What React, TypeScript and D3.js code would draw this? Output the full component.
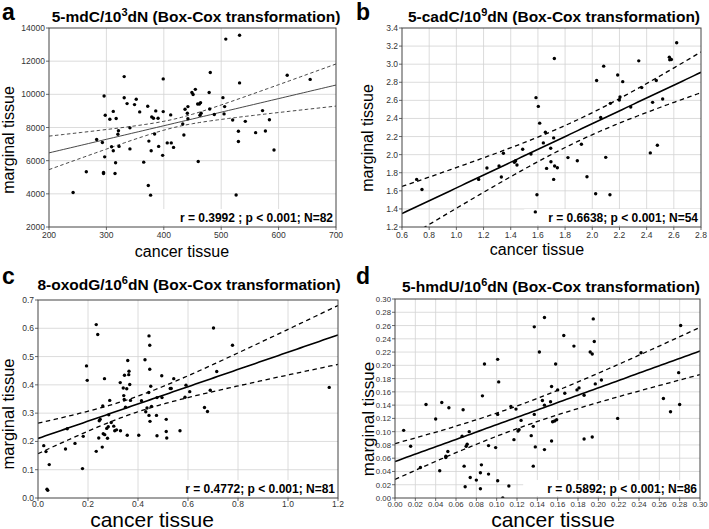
import React from 'react';
import * as d3 from 'd3';

const W = 709;
const H = 529;

// ---------- Panel a: 5-mdC/10^3 dN ----------
const aPoints: [number, number][] = [
  [242,4080],[265,5330],[283,7280],[293,7100],[295,5290],[295,5230],[296,9900],[297,6230],[298,8740],[306,8500],
  [309,6840],[312,8970],[312,6600],[315,5230],[316,5870],[317,8540],[320,7590],[321,7800],[322,6860],[331,11070],
  [331,9790],[336,9440],[341,6710],[341,7980],[349,9380],[352,9700],[358,8940],[365,5910],[372,9280],[373,4500],
  [374,7180],[377,3920],[378,6600],[379,8640],[382,8560],[384,7610],[386,9000],[390,8560],[391,6860],[399,8960],
  [399,10930],[398,6320],[406,7070],[412,8760],[413,7070],[417,6800],[433,8210],[435,7550],[437,9100],[442,9260],
  [442,8530],[441,8860],[449,10110],[451,9990],[455,10300],[459,9420],[460,5950],[462,9420],[463,8740],[464,9500],
  [465,8860],[479,10110],[480,9120],[481,11320],[488,8780],[503,9800],[505,8820],[506,9260],[508,13330],[520,8450],
  [526,3930],[530,7770],[530,7160],[532,13560],[532,10690],[542,8370],[560,7690],[572,9020],[577,7790],[584,8470],
  [592,6640],[615,11150],[655,10900]
];
const aFit = [6470, 10560];
const aBand = [1010, 1270];
const aMeanX = 420;

// ---------- Panel b: 5-cadC/10^9 dN ----------
const bPoints: [number, number][] = [
  [0.708,1.726],[0.747,1.615],[1.164,1.726],[1.225,1.852],[1.314,1.874],[1.331,1.752],[1.346,2.015],[1.427,1.915],
  [1.436,1.933],[1.446,1.885],[1.488,2.059],[1.549,2.007],[1.581,1.367],[1.586,2.63],[1.593,1.556],[1.603,2.533],
  [1.613,2.348],[1.64,2.13],[1.655,2.248],[1.664,1.848],[1.694,2.07],[1.696,1.922],[1.721,3.063],[1.716,2.185],
  [1.716,1.726],[1.723,1.874],[1.743,1.855],[1.821,1.967],[1.89,1.933],[1.92,2.115],[1.961,1.756],[2.025,1.567],
  [2.032,2.819],[2.062,2.411],[2.084,2.978],[2.099,1.97],[2.13,1.556],[2.133,2.567],[2.187,2.881],[2.199,2.604],
  [2.204,2.637],[2.224,2.807],[2.283,2.526],[2.342,3.037],[2.364,2.741],[2.427,2.019],[2.444,2.578],[2.471,2.819],
  [2.479,2.104],[2.518,2.615],[2.567,3.078],[2.57,3.048],[2.582,3.052],[2.621,3.237]
];
const bFit = [1.348, 2.91];
const bBand = [0.3, 0.225];
const bMeanX = 1.9;

// ---------- Panel c: 8-oxodG/10^6 dN ----------
const cPoints: [number, number][] = [
  [0.023,0.185],[0.032,0.164],[0.036,0.031],[0.039,0.027],[0.045,0.118],[0.110,0.173],[0.117,0.245],[0.148,0.193],
  [0.178,0.104],[0.181,0.218],[0.194,0.467],[0.197,0.416],[0.233,0.613],[0.233,0.165],[0.239,0.578],[0.243,0.212],
  [0.245,0.273],[0.249,0.278],[0.257,0.180],[0.259,0.325],[0.261,0.227],[0.266,0.422],[0.267,0.224],[0.275,0.246],
  [0.278,0.211],[0.281,0.252],[0.283,0.294],[0.287,0.345],[0.293,0.267],[0.303,0.254],[0.307,0.238],[0.314,0.241],
  [0.329,0.408],[0.330,0.238],[0.341,0.389],[0.343,0.362],[0.345,0.348],[0.346,0.434],[0.350,0.321],[0.355,0.386],
  [0.357,0.222],[0.359,0.486],[0.363,0.436],[0.364,0.448],[0.367,0.401],[0.370,0.345],[0.403,0.222],[0.414,0.344],
  [0.428,0.489],[0.431,0.305],[0.436,0.318],[0.443,0.373],[0.444,0.292],[0.444,0.573],[0.447,0.540],[0.447,0.455],
  [0.448,0.271],[0.451,0.395],[0.454,0.324],[0.474,0.292],[0.476,0.220],[0.476,0.355],[0.495,0.432],[0.496,0.355],
  [0.513,0.278],[0.513,0.235],[0.515,0.212],[0.529,0.387],[0.533,0.387],[0.543,0.422],[0.568,0.238],[0.588,0.356],
  [0.592,0.399],[0.607,0.376],[0.666,0.320],[0.678,0.306],[0.689,0.381],[0.702,0.601],[0.715,0.447],[0.778,0.540],
  [1.165,0.391]
];
const cFit = [0.2106, 0.5765];
const cBand = [0.054, 0.104];
const cMeanX = 0.38;

// ---------- Panel d: 5-hmdU/10^6 dN ----------
const dPoints: [number, number][] = [
  [0.147,0.272],[0.137,0.258],[0.195,0.270],[0.281,0.260],[0.166,0.245],[0.176,0.229],[0.196,0.236],[0.142,0.220],
  [0.192,0.220],[0.194,0.217],[0.242,0.219],[0.101,0.209],[0.088,0.202],[0.158,0.202],[0.102,0.175],[0.086,0.154],
  [0.203,0.178],[0.197,0.172],[0.279,0.189],[0.154,0.168],[0.160,0.163],[0.179,0.163],[0.181,0.166],[0.167,0.158],
  [0.186,0.155],[0.264,0.150],[0.153,0.145],[0.145,0.147],[0.147,0.140],[0.114,0.138],[0.119,0.134],[0.0305,0.141],
  [0.046,0.144],[0.053,0.136],[0.067,0.133],[0.271,0.130],[0.280,0.141],[0.137,0.126],[0.101,0.126],[0.040,0.119],
  [0.124,0.117],[0.155,0.115],[0.157,0.116],[0.159,0.118],[0.219,0.120],[0.0085,0.102],[0.073,0.100],[0.066,0.093],
  [0.121,0.101],[0.122,0.103],[0.136,0.108],[0.134,0.094],[0.117,0.088],[0.0154,0.078],[0.071,0.081],[0.070,0.078],
  [0.092,0.079],[0.099,0.076],[0.138,0.077],[0.154,0.086],[0.186,0.089],[0.194,0.092],[0.147,0.073],[0.052,0.070],
  [0.050,0.063],[0.050,0.061],[0.025,0.046],[0.068,0.048],[0.085,0.050],[0.136,0.048],[0.044,0.041],[0.074,0.031],
  [0.084,0.038],[0.092,0.036],[0.080,0.027],[0.069,0.017],[0.084,0.014],[0.101,0.026],[0.112,0.018],[0.106,0.000]
];
const dFit = [0.055, 0.2216];
const dBand = [0.027, 0.0357];
const dMeanX = 0.12;

const titles = [
  { pre: '5-mdC/10', sup: '3', post: 'dN (Box-Cox transformation)' },
  { pre: '5-cadC/10', sup: '9', post: 'dN (Box-Cox transformation)' },
  { pre: '8-oxodG/10', sup: '6', post: 'dN (Box-Cox transformation)' },
  { pre: '5-hmdU/10', sup: '6', post: 'dN (Box-Cox transformation)' },
];
const statLabels = [
  'r = 0.3992 ; p < 0.001; N=82',
  'r = 0.6638; p < 0.001; N=54',
  'r = 0.4772; p < 0.001; N=81',
  'r = 0.5892; p < 0.001; N=86',
];
const letters = ['a', 'b', 'c', 'd'];

type Cfg = {
  id: string;
  letter: string;
  title: { pre: string; sup: string; post: string };
  stat: string;
  points: [number, number][];
  fit: number[];
  band: number[];
  meanX: number;
  xDomain: [number, number];
  yDomain: [number, number];
  xStep: number;
  yStep: number;
  xFmt: string;
  yFmt: string;
  box: { l: number; r: number; t: number; b: number };
  letterPos: [number, number];
  titlePos: [number, number];
  yLabPos: [number, number];
  xLabPos: [number, number];
  xLabSize: number;
  yLabSize: number;
  tickSize: number;
  tickDy: number;
  thin: boolean;
};

function ticks(d: [number, number], step: number) {
  const n = Math.round((d[1] - d[0]) / step);
  return d3.range(n + 1).map((i) => +(d[0] + i * step).toFixed(6));
}

const FONT = 'Liberation Sans, Arial, Helvetica, sans-serif';

function Panel({ c }: { c: Cfg }) {
  const x = d3.scaleLinear().domain(c.xDomain).range([c.box.l, c.box.r]);
  const y = d3.scaleLinear().domain(c.yDomain).range([c.box.b, c.box.t]);
  const xt = ticks(c.xDomain, c.xStep);
  const yt = ticks(c.yDomain, c.yStep);
  const fx = d3.format(c.xFmt);
  const fy = d3.format(c.yFmt);

  const [x0, x1] = c.xDomain;
  const slope = (c.fit[1] - c.fit[0]) / (x1 - x0);
  const fitY = (v: number) => c.fit[0] + slope * (v - x0);
  const dl = (x0 - c.meanX) ** 2;
  const dr = (x1 - c.meanX) ** 2;
  const k2 = (c.band[1] ** 2 - c.band[0] ** 2) / (dr - dl);
  const h02 = Math.max(c.band[0] ** 2 - k2 * dl, 1e-12);
  const half = (v: number) => Math.sqrt(h02 + k2 * (v - c.meanX) ** 2);
  const xs = d3.range(81).map((i) => x0 + ((x1 - x0) * i) / 80);
  const solid = d3.line<number>().x((v) => x(v)).y((v) => y(fitY(v)))(xs) as string;
  const upper = d3.line<number>().x((v) => x(v)).y((v) => y(fitY(v) + half(v)))(xs) as string;
  const lower = d3.line<number>().x((v) => x(v)).y((v) => y(fitY(v) - half(v)))(xs) as string;

  const lw = c.thin ? 0.9 : 1.6;
  const dw = c.thin ? 0.9 : 1.3;
  const lc = c.thin ? '#333' : '#000';
  const dash = c.thin ? '3.5,2.5' : '4.5,3.5';
  const clipId = 'clip-' + c.id;

  const statW = c.stat.length * 6.4;

  return (
    <g>
      <defs>
        <clipPath id={clipId}>
          <rect x={c.box.l} y={c.box.t} width={c.box.r - c.box.l} height={c.box.b - c.box.t} />
        </clipPath>
      </defs>
      <rect x={c.box.l} y={c.box.t} width={c.box.r - c.box.l} height={c.box.b - c.box.t} fill="#fff" />
      {xt.slice(1, -1).map((v) => (
        <line key={'gx' + v} x1={x(v)} x2={x(v)} y1={c.box.t} y2={c.box.b} stroke="#d3d3d3" strokeWidth={0.8} />
      ))}
      {yt.slice(1, -1).map((v) => (
        <line key={'gy' + v} x1={c.box.l} x2={c.box.r} y1={y(v)} y2={y(v)} stroke="#d3d3d3" strokeWidth={0.8} />
      ))}
      <g clipPath={`url(#${clipId})`}>
        <rect x={c.box.r - statW - 4} y={c.box.b - 18} width={statW + 3} height={16} fill="#fff" />
        <path d={upper} fill="none" stroke={lc} strokeWidth={dw} strokeDasharray={dash} />
        <path d={lower} fill="none" stroke={lc} strokeWidth={dw} strokeDasharray={dash} />
        <path d={solid} fill="none" stroke={lc} strokeWidth={lw} />
        {c.points.map((p, i) => (
          <circle key={i} cx={x(p[0])} cy={y(p[1])} r={1.7} fill="#000" />
        ))}
      </g>
      <rect
        x={c.box.l}
        y={c.box.t}
        width={c.box.r - c.box.l}
        height={c.box.b - c.box.t}
        fill="none"
        stroke="#444"
        strokeWidth={1}
      />
      {xt.map((v) => (
        <g key={'tx' + v}>
          <line x1={x(v)} x2={x(v)} y1={c.box.b} y2={c.box.b + 3} stroke="#444" strokeWidth={0.8} />
          <text x={x(v)} y={c.box.b + c.tickDy} fontSize={c.tickSize} fill="#333" textAnchor="middle" fontFamily={FONT}>
            {fx(v)}
          </text>
        </g>
      ))}
      {yt.map((v) => (
        <g key={'ty' + v}>
          <line x1={c.box.l - 3} x2={c.box.l} y1={y(v)} y2={y(v)} stroke="#444" strokeWidth={0.8} />
          <text x={c.box.l - 4} y={y(v) + 3} fontSize={c.tickSize} fill="#333" textAnchor="end" fontFamily={FONT}>
            {fy(v)}
          </text>
        </g>
      ))}
      <text
        x={c.box.r - 3}
        y={c.box.b - 5}
        fontSize={12}
        fontWeight="bold"
        textAnchor="end"
        fontFamily={FONT}
        fill="#000"
      >
        {c.stat}
      </text>
      <text x={c.letterPos[0]} y={c.letterPos[1]} fontSize={23} fontWeight="bold" fontFamily={FONT}>
        {c.letter}
      </text>
      <text
        x={c.titlePos[0]}
        y={c.titlePos[1]}
        fontSize={15.5}
        fontWeight="bold"
        textAnchor="middle"
        fontFamily={FONT}
      >
        {c.title.pre}
        <tspan dy={-6} fontSize={11}>
          {c.title.sup}
        </tspan>
        <tspan dy={6}>{c.title.post}</tspan>
      </text>
      <text
        transform={`translate(${c.yLabPos[0]},${c.yLabPos[1]}) rotate(-90)`}
        fontSize={c.yLabSize}
        textAnchor="middle"
        fontFamily={FONT}
      >
        marginal tissue
      </text>
      <text x={c.xLabPos[0]} y={c.xLabPos[1]} fontSize={c.xLabSize} textAnchor="middle" fontFamily={FONT}>
        cancer tissue
      </text>
    </g>
  );
}

const panels: Cfg[] = [
  {
    id: 'a',
    letter: letters[0],
    title: titles[0],
    stat: statLabels[0],
    points: aPoints,
    fit: aFit,
    band: aBand,
    meanX: aMeanX,
    xDomain: [200, 700],
    yDomain: [2000, 14000],
    xStep: 100,
    yStep: 2000,
    xFmt: 'd',
    yFmt: 'd',
    box: { l: 49, r: 336, t: 28, b: 227 },
    letterPos: [2, 20],
    titlePos: [196, 22],
    yLabPos: [14, 140],
    xLabPos: [182, 257],
    xLabSize: 16,
    yLabSize: 16,
    tickSize: 8.5,
    tickDy: 11,
    thin: true,
  },
  {
    id: 'b',
    letter: letters[1],
    title: titles[1],
    stat: statLabels[1],
    points: bPoints,
    fit: bFit,
    band: bBand,
    meanX: bMeanX,
    xDomain: [0.6, 2.8],
    yDomain: [1.2, 3.4],
    xStep: 0.2,
    yStep: 0.2,
    xFmt: '.1f',
    yFmt: '.1f',
    box: { l: 402, r: 701, t: 28, b: 227 },
    letterPos: [356, 20],
    titlePos: [554, 22],
    yLabPos: [373, 138],
    xLabPos: [537, 255],
    xLabSize: 16,
    yLabSize: 16,
    tickSize: 8.5,
    tickDy: 11,
    thin: false,
  },
  {
    id: 'c',
    letter: letters[2],
    title: titles[2],
    stat: statLabels[2],
    points: cPoints,
    fit: cFit,
    band: cBand,
    meanX: cMeanX,
    xDomain: [0, 1.2],
    yDomain: [0, 0.7],
    xStep: 0.2,
    yStep: 0.1,
    xFmt: '.1f',
    yFmt: '.1f',
    box: { l: 38, r: 338, t: 300, b: 498 },
    letterPos: [2, 284],
    titlePos: [189, 290],
    yLabPos: [14, 414],
    xLabPos: [152, 526.5],
    xLabSize: 21,
    yLabSize: 16.5,
    tickSize: 8.5,
    tickDy: 9,
    thin: false,
  },
  {
    id: 'd',
    letter: letters[3],
    title: titles[3],
    stat: statLabels[3],
    points: dPoints,
    fit: dFit,
    band: dBand,
    meanX: dMeanX,
    xDomain: [0, 0.3],
    yDomain: [0, 0.3],
    xStep: 0.02,
    yStep: 0.02,
    xFmt: '.2f',
    yFmt: '.2f',
    box: { l: 395, r: 700, t: 299, b: 498 },
    letterPos: [356, 284],
    titlePos: [551, 292],
    yLabPos: [374, 419],
    xLabPos: [553, 526.5],
    xLabSize: 21,
    yLabSize: 17,
    tickSize: 7.8,
    tickDy: 8.5,
    thin: false,
  },
];

export default function App() {
  return (
    <svg width={W} height={H} viewBox={`0 0 ${W} ${H}`} style={{ display: 'block', position: 'absolute', left: 0, top: 0 }}>
      <rect width={W} height={H} fill="#fff" />
      {panels.map((p) => (
        <Panel key={p.id} c={p} />
      ))}
    </svg>
  );
}
